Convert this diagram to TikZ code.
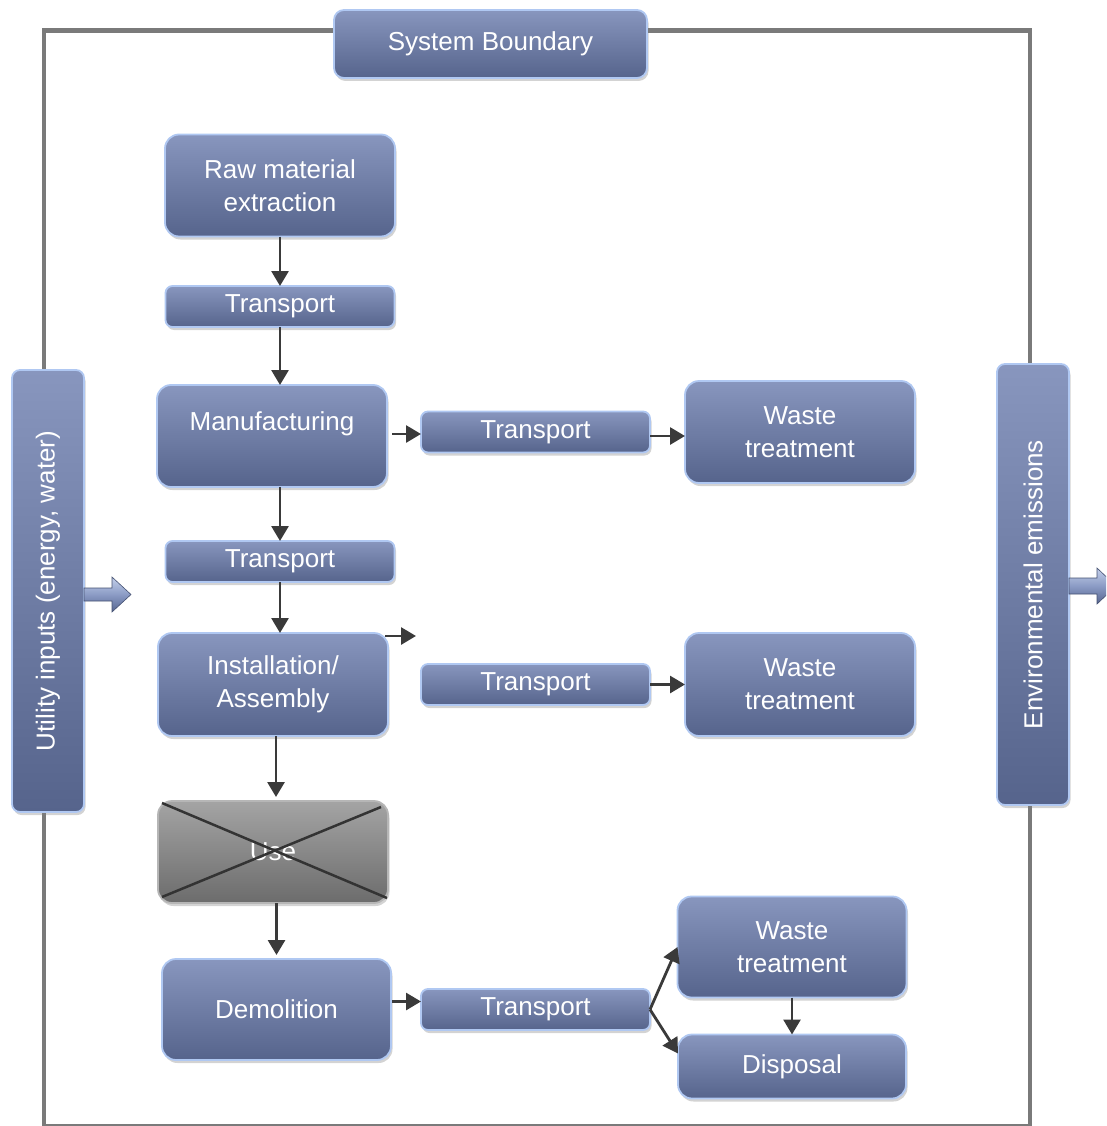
\documentclass[tikz,border=0pt]{standalone}
\usepackage{fontspec}
\setmainfont{Liberation Sans}
\usetikzlibrary{arrows.meta,shadows,calc}
\definecolor{boxtop}{HTML}{8896BE}
\definecolor{boxbot}{HTML}{56648C}
\definecolor{boxedge}{HTML}{B0C8F2}
\definecolor{arrowc}{HTML}{3A3A3A}
\definecolor{bound}{HTML}{7A7A7A}
\definecolor{usetop}{HTML}{A4A4A4}
\definecolor{usebot}{HTML}{6C6C6C}
\definecolor{usecross}{HTML}{333333}
\definecolor{bartop}{HTML}{C4D0EA}
\definecolor{barmid}{HTML}{8B9BC5}
\definecolor{barbot}{HTML}{56658F}
\begin{document}
\begin{tikzpicture}[x=1pt,y=-1pt,
  stage/.style={draw=boxedge, line width=1.8pt, rounded corners=14pt,
    top color=boxtop, bottom color=boxbot, text=white,
    font=\fontsize{26}{33}\selectfont, align=center, inner sep=0pt, outer sep=0pt,
    drop shadow={opacity=0.35, shadow xshift=1.5pt, shadow yshift=-3pt}},
  big/.style={stage, minimum width=230pt, minimum height=102pt},
  small/.style={stage, rounded corners=7pt, minimum width=229pt, minimum height=41pt},
  side/.style={stage, rounded corners=8pt, minimum width=442pt, minimum height=72pt, rotate=90},
  usebox/.style={stage, draw=usetop!80!white, top color=usetop, bottom color=usebot,
    minimum width=230pt, minimum height=102pt},
  arr/.style={draw=arrowc, line width=2.8pt, -{Triangle[length=15pt,width=17pt]}},
  cross/.style={draw=usecross, line width=2.5pt},
  blockarrow/.style={draw=barbot!80!black, line width=0.6pt, top color=bartop, bottom color=barbot, middle color=barmid},
  boundary/.style={draw=bound, line width=4.5pt},
]
\useasboundingbox (0,0) rectangle (1106,1126);
\clip (0,0) rectangle (1106,1126);

% system boundary
\draw[boundary] (44,30.5) rectangle (1030,1126.5);

% boxes
\node[stage, rounded corners=10pt, minimum width=313pt, minimum height=68pt] (sb) at (490.5,44) {System Boundary};
\node[big] (raw) at (280,185.5) {Raw material\\extraction};
\node[small] (t1) at (280,306.5) {Transport};
\node[big, label={[name=mfgtext, text=white, font=\fontsize{26}{33}\selectfont, yshift=12pt]center:Manufacturing}] (mfg) at (272,436) {};
\node[small] (tm) at (535.5,432) {Transport};
\node[big] (wt1) at (800,432) {Waste\\treatment};
\node[small] (t2) at (280,561.5) {Transport};
\node[big, minimum height=103pt] (inst) at (273,684.5) {Installation/\\Assembly};
\node[small] (ti) at (535.5,684.5) {Transport};
\node[big, minimum height=103pt] (wt2) at (800,684.5) {Waste\\treatment};
\node[usebox] (use) at (273,852) {Use};
\node[big, minimum width=229pt, minimum height=101pt] (dem) at (276.5,1009.5) {Demolition};
\node[small] (td) at (535.5,1009.5) {Transport};
\node[big, minimum width=229pt, minimum height=101pt] (wt3) at (792,947) {Waste\\treatment};
\node[big, minimum width=228pt, minimum height=64pt] (disp) at (792,1066.5) {Disposal};
\node[side] (util) at (48,591) {Utility inputs (energy, water)};
\node[side, minimum width=441pt] (emis) at (1033,584.5) {Environmental emissions};

% crossed-out use stage
\draw[cross] ([shift={(4,2)}]use.north west) -- ([shift={(-1,-5)}]use.south east);
\draw[cross] ([shift={(4,-6)}]use.south west) -- ([shift={(-7,6)}]use.north east);

% block arrows (util.south / emis.south face right because the boxes are rotated)
\draw[blockarrow] (util.south) ++(0,-3) -- ++(28,0) -- ++(0,-11) -- ++(19,17.5) -- ++(-19,17.5) -- ++(0,-11) -- ++(-28,0) -- cycle;
\draw[blockarrow] (emis.south) ++(0,-6.5) -- ++(28,0) -- ++(0,-10) -- ++(19,18) -- ++(-19,18) -- ++(0,-10) -- ++(-28,0) -- cycle;

% connector anchor points
\coordinate (m0) at ([shift={(5,-2)}]mfg.east);
\coordinate (tm0) at ([yshift=-4pt]tm.east);
\coordinate (d0) at ([shift={(1,-8)}]dem.east);
\coordinate (stray0) at (385,636);
\coordinate (stray1) at (416,636);

% connectors
\draw[arr] (raw.south) -- (t1.north);
\draw[arr] (t1.south) -- (t1.south |- mfg.north);
\draw[arr] (m0) -- (tm.west |- m0);
\draw[arr] (tm0) -- (wt1.west |- tm0);
\draw[arr] (mfg.south -| t2.north) -- (t2.north);
\draw[arr] (t2.south) -- (t2.south |- inst.north);
\draw[arr] (stray0) -- (stray1);
\draw[arr] (ti.east) -- (wt2.west |- ti.east);
\draw[arr, shorten >=4pt] ([xshift=3pt]inst.south) -- ([xshift=3pt]use.north);
\draw[arr, shorten >=4pt] (use.south -| dem.north) -- (dem.north);
\draw[arr] (d0) -- (td.west |- d0);
\draw[arr] (td.east) -- (wt3.west);
\draw[arr] (td.east) -- ([yshift=13pt]disp.west);
\draw[arr] (wt3.south) -- (disp.north);
\end{tikzpicture}
\end{document}
